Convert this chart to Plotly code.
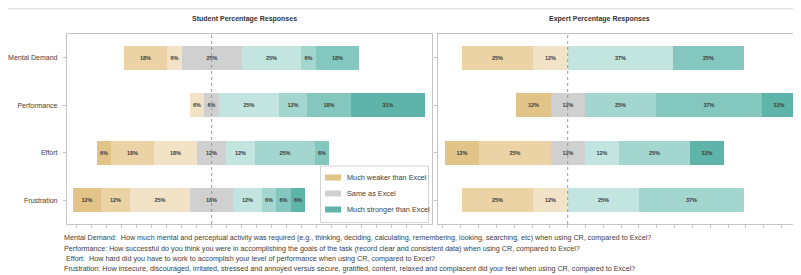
import plotly.graph_objects as go

# The page body has an 8px margin, so the figure is drawn 8px smaller and
# all layout positions below are given in window pixels and shifted by OFF.
WIN_W, WIN_H = 801, 275
OFF = 8
W, H = WIN_W - OFF, WIN_H - OFF

categories = ["Mental Demand", "Performance", "Effort", "Frustration"]

level_names = ["Much weaker than Excel", "Weaker than Excel", "Slightly weaker than Excel",
               "Same as Excel", "Slightly stronger than Excel", "Stronger than Excel",
               "Clearly stronger than Excel", "Much stronger than Excel"]
level_colors = ["#E2C388", "#EBD3A5", "#F2E3C7", "#D0D0D0",
                "#C3E5E0", "#A3D6CF", "#83C7BE", "#5FB4A9"]
legend_levels = [0, 3, 7]
same_index = 3

# Student responses (%), one list per response level, in category order
student_w3 = [0, 0, 6, 12]
student_w2 = [18, 0, 18, 12]
student_w1 = [6, 6, 18, 25]
student_same = [25, 6, 12, 18]
student_s1 = [25, 25, 12, 12]
student_s2 = [6, 12, 25, 6]
student_s3 = [18, 18, 6, 6]
student_s4 = [0, 31, 0, 6]

# Expert responses (%)
expert_w3 = [0, 12, 12, 0]
expert_w2 = [25, 0, 25, 25]
expert_w1 = [12, 0, 0, 12]
expert_same = [0, 12, 12, 0]
expert_s1 = [37, 0, 12, 25]
expert_s2 = [0, 25, 25, 37]
expert_s3 = [25, 37, 0, 0]
expert_s4 = [0, 12, 12, 0]

student = [student_w3, student_w2, student_w1, student_same,
           student_s1, student_s2, student_s3, student_s4]
expert = [expert_w3, expert_w2, expert_w1, expert_same,
          expert_s1, expert_s2, expert_s3, expert_s4]

descriptions = [
    "Mental Demand:  How much mental and perceptual activity was required (e.g., thinking, deciding, calculating, remembering, looking, searching, etc) when using CR, compared to Excel?",
    "Performance: How successful do you think you were in accomplishing the goals of the task (record clear and consistent data) when using CR, compared to Excel?",
    " Effort:  How hard did you have to work to accomplish your level of performance when using CR, compared to Excel?",
    "Frustration: How insecure, discouraged, irritated, stressed and annoyed versus secure, gratified, content, relaxed and complacent did your feel when using CR, compared to Excel?",
]

FONT = "Liberation Sans, Arial, sans-serif"
fig = go.Figure()


def px(v):
    return (v - OFF) / W


def py(v):
    return 1 - (v - OFF) / H


def add_panel(data, xaxis, yaxis):
    n = len(categories)
    starts = []
    for i in range(n):
        left = sum(data[k][i] for k in range(same_index)) + data[same_index][i] / 2
        starts.append(-left)
    cum = list(starts)
    for k, vals in enumerate(data):
        bases = list(cum)
        fig.add_trace(go.Bar(
            orientation="h", y=categories, x=vals, base=bases,
            marker=dict(color=level_colors[k], line=dict(width=0)),
            name=level_names[k],
            text=[f"{v}%" if v > 0 else "" for v in vals],
            textposition="inside", insidetextanchor="middle",
            textfont=dict(size=5.5, color="#3A3A3A", family=FONT, weight="bold"),
            textangle=0,
            width=0.51,
            xaxis=xaxis, yaxis=yaxis,
            showlegend=False,
            hoverinfo="skip",
        ))
        cum = [c + v for c, v in zip(cum, vals)]


add_panel(student, "x", "y")
add_panel(expert, "x2", "y2")

ydom = [py(224), py(34)]
axis_common = dict(showgrid=False, zeroline=False, showline=True, mirror=True,
                   linecolor="#C4C4C4", linewidth=1.2)

fig.update_layout(
    width=W, height=H, margin=dict(l=0, r=0, t=0, b=0, autoexpand=False),
    paper_bgcolor="white", plot_bgcolor="white",
    barmode="overlay", bargap=0, showlegend=False,
    font=dict(family=FONT, color="#404040"),
    xaxis=dict(domain=[px(67), px(432)], range=[-60.4, 92], showticklabels=False,
               ticks="outside", ticklen=3, tickcolor="#C4C4C4", tick0=0, dtick=6.25,
               **axis_common),
    yaxis=dict(domain=ydom, anchor="x", categoryorder="array", categoryarray=categories,
               autorange="reversed", ticks="outside", ticklen=3, tickcolor="#C4C4C4",
               tickfont=dict(size=7, color="#404040"), ticklabelstandoff=4,
               automargin=False, **axis_common),
    xaxis2=dict(domain=[px(438), px(800)], range=[-45.5, 81.5], showticklabels=False,
                anchor="y2", ticks="outside", ticklen=3, tickcolor="#C4C4C4", tick0=0,
                dtick=6.25, **axis_common),
    yaxis2=dict(domain=ydom, anchor="x2", categoryorder="array", categoryarray=categories,
                autorange="reversed", ticks="outside", ticklen=3, tickcolor="#C4C4C4",
                showticklabels=False, **axis_common),
)

# faint outer frame (top edge)
fig.add_shape(type="line", xref="paper", yref="paper", x0=0, x1=1, y0=py(8.7), y1=py(8.7),
              line=dict(color="#E2E2E2", width=1.4))

# dashed zero lines
for xr, yr in [("x", "y domain"), ("x2", "y2 domain")]:
    fig.add_shape(type="line", xref=xr, yref=yr, x0=0, x1=0, y0=0, y1=1,
                  line=dict(color="#9A9A9A", width=1, dash="dot"), layer="above")

# panel titles
fig.add_annotation(text="<b>Student Percentage Responses</b>", x=px(244), y=py(19),
                   xref="paper", yref="paper", xanchor="center", yanchor="middle",
                   showarrow=False, font=dict(size=7, color="#333333"))
fig.add_annotation(text="<b>Expert Percentage Responses</b>", x=px(599), y=py(19),
                   xref="paper", yref="paper", xanchor="center", yanchor="middle",
                   showarrow=False, font=dict(size=7, color="#333333"))

# legend (drawn by hand to match the compact Excel legend)
fig.add_shape(type="rect", xref="paper", yref="paper", x0=px(320.5), x1=px(428.5),
              y0=py(222.5), y1=py(166), line=dict(color="#D4D4D4", width=1),
              fillcolor="white", layer="above")
for idx, yy in zip(legend_levels, [177.5, 193.5, 209.5]):
    fig.add_shape(type="rect", xref="paper", yref="paper", x0=px(325), x1=px(341),
                  y0=py(yy + 3), y1=py(yy - 3), line=dict(width=0),
                  fillcolor=level_colors[idx], layer="above")
    fig.add_annotation(text=level_names[idx], x=px(345), y=py(yy), xref="paper",
                       yref="paper", xanchor="left", yanchor="middle", showarrow=False,
                       font=dict(size=7.3, color="#404040"))

# descriptions
for txt, yy in zip(descriptions, [237, 248, 258.5, 268.5]):
    fig.add_annotation(text=txt, x=px(62), y=py(yy), xref="paper", yref="paper",
                       xanchor="left", yanchor="middle", showarrow=False,
                       font=dict(size=7.2, color="#404040"))

fig.write_html("out.html")
